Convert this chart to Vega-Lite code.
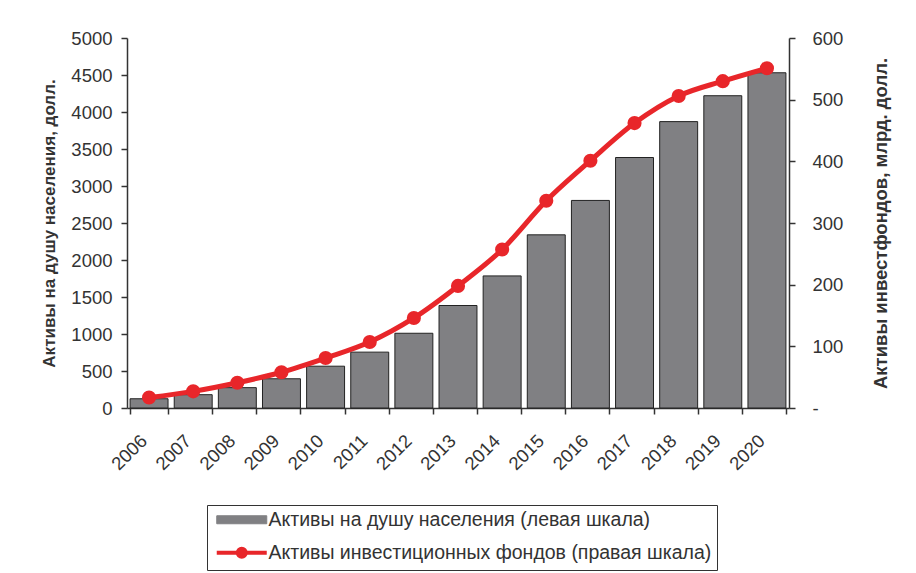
{
  "$schema": "https://vega.github.io/schema/vega-lite/v6.json",
  "autosize": {"type": "none"},
  "padding": {"left": 127, "top": 38, "right": 127, "bottom": 165},
  "width": 662,
  "height": 370,
  "background": "white",
  "config": {
    "font": "Liberation Sans",
    "view": {"stroke": null},
    "axis": {
      "grid": false,
      "domainColor": "#333",
      "domainWidth": 1.5,
      "tickColor": "#333",
      "tickWidth": 1.5,
      "labelColor": "#333",
      "labelFont": "Liberation Sans",
      "labelFontSize": 18.5,
      "titleFont": "Liberation Sans",
      "titleFontSize": 17,
      "titleFontWeight": "bold",
      "titleColor": "#333"
    }
  },
  "data": {
    "values": [
      {"year": "2006", "pc": 125, "funds": 17},
      {"year": "2007", "pc": 180, "funds": 27},
      {"year": "2008", "pc": 275, "funds": 41},
      {"year": "2009", "pc": 395, "funds": 58},
      {"year": "2010", "pc": 565, "funds": 81},
      {"year": "2011", "pc": 755, "funds": 107},
      {"year": "2012", "pc": 1010, "funds": 146},
      {"year": "2013", "pc": 1385, "funds": 198},
      {"year": "2014", "pc": 1785, "funds": 257},
      {"year": "2015", "pc": 2340, "funds": 336},
      {"year": "2016", "pc": 2805, "funds": 401},
      {"year": "2017", "pc": 3385, "funds": 462},
      {"year": "2018", "pc": 3870, "funds": 506},
      {"year": "2019", "pc": 4220, "funds": 530},
      {"year": "2020", "pc": 4530, "funds": 551}
    ]
  },
  "encoding": {
    "x": {
      "field": "year",
      "type": "ordinal",
      "scale": {"paddingInner": 0.14, "paddingOuter": 0.07},
      "axis": {
        "title": null,
        "labelAngle": -45,
        "tickBand": "extent",
        "tickSize": 6,
        "labelPadding": 17,
        "labelOffset": -12
      }
    }
  },
  "layer": [
    {
      "mark": {"type": "bar", "stroke": "#222", "strokeWidth": 1},
      "encoding": {
        "y": {
          "field": "pc",
          "type": "quantitative",
          "scale": {"domain": [0, 5000], "nice": false},
          "axis": {
            "orient": "left",
            "title": "Активы на душу населения, долл.",
            "values": [0, 500, 1000, 1500, 2000, 2500, 3000, 3500, 4000, 4500, 5000],
            "format": "d",
            "tickSize": 6,
            "labelPadding": 9,
            "titlePadding": 12,
            "titleAngle": 270
          }
        },
        "color": {
          "datum": "Активы на душу населения (левая шкала)",
          "type": "nominal",
          "scale": {
            "domain": ["Активы на душу населения (левая шкала)", "Активы инвестиционных фондов (правая шкала)"],
            "range": ["#808083", "#e8262a"]
          },
          "legend": {
            "title": null,
            "orient": "none",
            "legendX": 80,
            "legendY": 467,
            "direction": "vertical",
            "strokeColor": "#333",
            "padding": 5,
            "rowPadding": 10,
            "symbolSize": 100,
            "labelOffset": 37,
            "labelFont": "Liberation Sans",
            "labelFontSize": 19.5,
            "labelColor": "#333",
            "labelLimit": 700,
            "encoding": {
              "symbols": {
                "shape": {"value": {"expr": "datum.value === 'Активы на душу населения (левая шкала)' ? 'M-1,-0.8H9V0.8H-1Z' : 'M-1,0H9M3.2,0A0.8,0.8 0 1,0 4.8,0A0.8,0.8 0 1,0 3.2,0Z'"}},
                "stroke": {"value": {"expr": "datum.value === 'Активы на душу населения (левая шкала)' ? '#222' : '#e8262a'"}},
                "strokeWidth": {"value": {"expr": "datum.value === 'Активы на душу населения (левая шкала)' ? 1 : 4"}},
                "opacity": {"value": 1}
              }
            }
          }
        }
      }
    },
    {
      "mark": {"type": "line", "strokeWidth": 5, "interpolate": "monotone", "point": {"size": 200, "filled": true, "opacity": 1}},
      "encoding": {
        "y": {
          "field": "funds",
          "type": "quantitative",
          "scale": {"domain": [0, 600], "nice": false},
          "axis": {
            "orient": "right",
            "title": "Активы инвестфондов, млрд. долл.",
            "titleFontSize": 18.5,
            "values": [0, 100, 200, 300, 400, 500, 600],
            "labelExpr": "datum.value == 0 ? '-' : datum.label",
            "tickSize": 6,
            "labelPadding": 17,
            "titlePadding": 48,
            "titleAngle": 270
          }
        },
        "color": {
          "datum": "Активы инвестиционных фондов (правая шкала)",
          "type": "nominal"
        }
      }
    }
  ],
  "resolve": {"scale": {"y": "independent"}}
}
